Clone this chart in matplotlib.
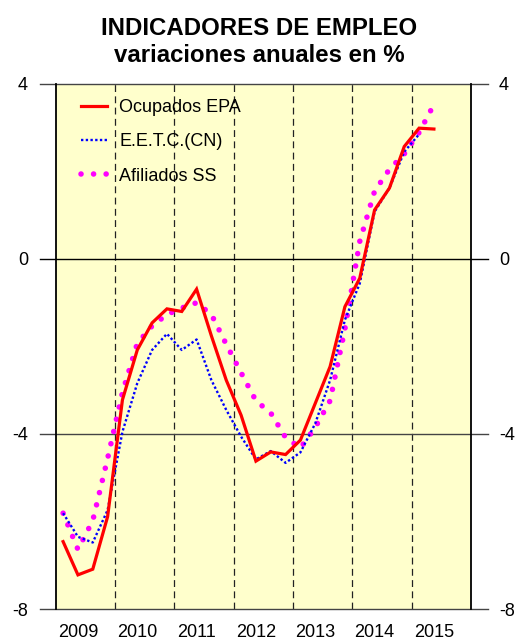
import matplotlib
matplotlib.use("Agg")
import matplotlib.pyplot as plt
import numpy as np

plt.rcParams['font.family'] = ['Liberation Sans', 'DejaVu Sans']

# Quarterly series, 2009Q1 ... 
ocupados_epa = [-6.46, -7.22, -7.09, -5.89,
                -3.22, -2.08, -1.46, -1.14,
                -1.20, -0.69, -1.76, -2.77,
                -3.57, -4.62, -4.41, -4.47,
                -4.14, -3.30, -2.46, -1.09,
                -0.44, 1.12, 1.62, 2.57,
                2.99, 2.97]
eetc_cn = [-5.81, -6.35, -6.48, -5.74,
           -3.95, -2.84, -2.08, -1.71,
           -2.08, -1.84, -2.77, -3.45,
           -4.06, -4.58, -4.39, -4.66,
           -4.42, -3.76, -2.77, -1.39,
           -0.56, 1.08, 1.62, 2.45,
           2.85]
afiliados_ss = [-5.81, -6.64, -5.98, -4.56,
                -3.05, -1.93, -1.53, -1.27,
                -1.12, -1.00, -1.27, -1.95,
                -2.60, -3.24, -3.52, -4.08,
                -4.32, -3.85, -3.24, -1.60,
                0.40, 1.55, 2.05, 2.40,
                2.89, 3.53]
years = [2009, 2010, 2011, 2012, 2013, 2014, 2015]
yticks = [4, 0, -4, -8]

def qpos(n):
    return [2009 + (i + 0.5) / 4 for i in range(n)]

fig = plt.figure(figsize=(5.19, 6.42), dpi=100)
ax = fig.add_axes([0.1073, 0.0514, 0.8002, 0.8178])
ax.set_facecolor('#FFFFCC')
ax.set_xlim(2009, 2016)
ax.set_ylim(-8, 4)

# vertical dashed year separators
for yv in years[1:]:
    ax.axvline(yv, color='#222222', lw=0.9, ls=(0, (5.5, 3.5)), zorder=1)

# horizontal lines extending beyond the plot
for yv in yticks:
    col = 'black' if yv == 0 else '#444444'
    ax.plot([-0.038, 1.041], [(yv + 8) / 12] * 2, transform=ax.transAxes,
            color=col, lw=1.0, clip_on=False, zorder=2)

ax.plot(qpos(len(ocupados_epa)), ocupados_epa, color='#FF0000', lw=2.3,
        solid_joinstyle='miter', label='Ocupados EPA', zorder=5)
ax.plot(qpos(len(eetc_cn)), eetc_cn, color='#0000FF', lw=1.7,
        ls=(0, (1, 1)), dash_capstyle='butt', label='E.E.T.C.(CN)', zorder=4)
ax.plot(qpos(len(afiliados_ss)), afiliados_ss, color='#FF00FF', lw=4.0,
        ls=(0, (0.01, 2.25)), dash_capstyle='round', label='Afiliados SS', zorder=3)

for s in ['top', 'bottom']:
    ax.spines[s].set_visible(False)
for s in ['left', 'right']:
    ax.spines[s].set_linewidth(1.3)
    ax.spines[s].set_color('black')

ax.set_yticks(yticks)
ax.set_yticklabels([str(v) for v in yticks])
ax.tick_params(axis='y', length=0, labelsize=13, pad=20, left=True, right=True,
               labelleft=True, labelright=True)
ax.set_xticks(years)
ax.set_xticklabels([])
ax.set_xticks([y + 0.375 for y in years], minor=True)
ax.set_xticklabels([str(y) for y in years], minor=True)
ax.tick_params(axis='x', which='both', length=0, labelsize=13, pad=11)

leg = ax.legend(loc='upper left', bbox_to_anchor=(0.031, 0.995), frameon=False,
                fontsize=13, handlelength=1.45, handletextpad=0.65,
                labelspacing=0.95, borderaxespad=0.3, borderpad=0.4)

fig.text(0.5, 0.955, 'INDICADORES DE EMPLEO', ha='center', va='center',
         fontsize=17.3, fontweight='bold')
fig.text(0.5, 0.914, 'variaciones anuales en %', ha='center', va='center',
         fontsize=17.3, fontweight='bold')

fig.savefig('out.png', dpi=100, facecolor='white')
